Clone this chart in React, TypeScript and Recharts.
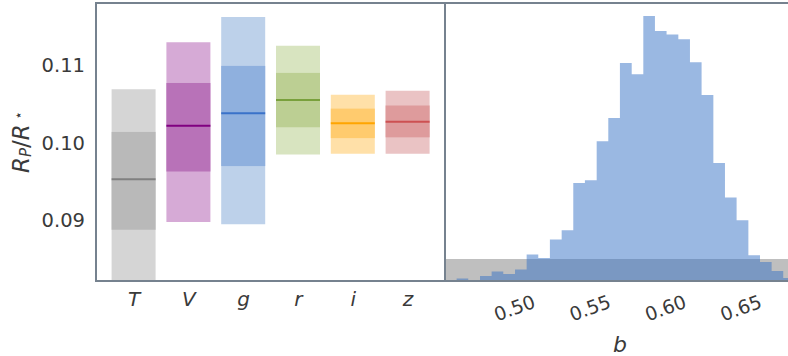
import React from 'react';
import {
  ComposedChart,
  Bar,
  Area,
  XAxis,
  YAxis,
  Cell,
} from 'recharts';

// ---------- Left panel: planet-to-star radius ratio per band ----------
const bands = ['T', 'V', 'g', 'r', 'i', 'z'];
const medians = [0.0953, 0.1022, 0.1038, 0.1055, 0.1025, 0.1027];
const inner1Lo = [0.0888, 0.0963, 0.0970, 0.1020, 0.1006, 0.1007];
const inner1Hi = [0.1014, 0.1077, 0.1099, 0.1090, 0.1044, 0.1048];
const outer2Lo = [0.0800, 0.0898, 0.0895, 0.0985, 0.0986, 0.0986];
const outer2Hi = [0.1069, 0.11295, 0.1162, 0.1125, 0.1062, 0.1067];
const radiusTicks = [0.09, 0.1, 0.11];

// ---------- Right panel: impact parameter histogram ----------
const bEdges = [
  0.4539, 0.4616, 0.4693, 0.4771, 0.4848, 0.4925, 0.5003, 0.508, 0.5157, 0.5234,
  0.5312, 0.5389, 0.5466, 0.5544, 0.5621, 0.5698, 0.5776, 0.5853, 0.593, 0.6007,
  0.6085, 0.6162, 0.6239, 0.6317, 0.6394, 0.6471, 0.6549, 0.6626, 0.6703, 0.678,
  0.6858,
];
const bCounts = [
  0, 2.4, 0, 5, 9.4, 7, 11.4, 26.4, 23, 41.4,
  50.7, 98, 100.7, 139.7, 163, 218, 206.7, 265, 250, 246.4,
  241.7, 218.7, 186, 118, 83.4, 60.7, 25.7, 19, 10, 3,
];
const priorEdges = [0.4539, 0.6858];
const priorLevel = 22;
const bTicks = [0.5, 0.55, 0.6, 0.65];

// ---------- styles ----------
const outerColors = ['#d5d5d5', '#d6aad6', '#bdd1ea', '#d8e4c0', '#ffe0a8', '#eac3c4'];
const innerColors = ['#b9b9b9', '#b872b8', '#8fb0de', '#bccf93', '#ffcb6e', '#de9b9c'];
const medianColors = ['#808080', '#800080', '#3a72c9', '#79a03c', '#ffa500', '#cd5052'];
const frameColor = '#76828f';
const textColor = '#3a3a3a';
const font = 'DejaVu Sans, sans-serif';

const bandRows = bands.map((band, i) => ({
  band,
  outer: [outer2Lo[i], outer2Hi[i]],
  inner: [inner1Lo[i], inner1Hi[i]],
  median: medians[i],
  idx: i,
}));

const histRows = bEdges.map((b, i) => ({
  b,
  count: i < bCounts.length ? bCounts[i] : bCounts[bCounts.length - 1],
}));
const priorRows = priorEdges.map((b) => ({ b, prior: priorLevel }));

const InnerShape = (props: any) => {
  const { x, y, width, height, payload } = props;
  const top = Math.min(y, y + height);
  const h = Math.abs(height);
  const [lo, hi] = payload.inner;
  const medY = top + (h * (hi - payload.median)) / (hi - lo);
  return (
    <g>
      <rect x={x} y={top} width={width} height={h} fill={innerColors[payload.idx]} />
      <line
        x1={x}
        x2={x + width}
        y1={medY}
        y2={medY}
        stroke={medianColors[payload.idx]}
        strokeWidth={2}
      />
    </g>
  );
};

const YLabel = (props: any) => {
  const vb = props.viewBox || { x: 0, y: 0, width: 96, height: 278 };
  const cx = vb.x + 21;
  const cy = vb.y + vb.height / 2;
  return (
    <text
      x={cx}
      y={cy}
      transform={`rotate(-90, ${cx}, ${cy})`}
      textAnchor="middle"
      dominantBaseline="central"
      fill={textColor}
      fontFamily={font}
      fontSize={23}
    >
      <tspan fontStyle="italic">R</tspan>
      <tspan fontStyle="italic" fontSize={15} dy={5}>P</tspan>
      <tspan dy={-5}>/</tspan>
      <tspan fontStyle="italic">R</tspan>
      <tspan fontSize={14} dy={-3}>{' \u22c6'}</tspan>
    </text>
  );
};

const RotTick = (props: any) => {
  const { x, y, payload } = props;
  const cy = y + 27;
  return (
    <text
      x={x}
      y={cy}
      dy="0.35em"
      textAnchor="middle"
      transform={`rotate(-20, ${x}, ${cy})`}
      fill={textColor}
      fontFamily={font}
      fontSize={19}
    >
      {Number(payload.value).toFixed(2)}
    </text>
  );
};

const BLabel = (props: any) => {
  const vb = props.viewBox || { x: 0, y: 0, width: 350, height: 75 };
  return (
    <text
      x={vb.x + vb.width / 2}
      y={352}
      textAnchor="middle"
      fill={textColor}
      fontFamily={font}
      fontStyle="italic"
      fontSize={22}
    >
      b
    </text>
  );
};

const frameStyle = (left: number, width: number): React.CSSProperties => ({
  position: 'absolute',
  left,
  top: 2,
  width,
  height: 280,
  boxSizing: 'border-box',
  border: `2px solid ${frameColor}`,
  pointerEvents: 'none',
});

export default function App() {
  return (
    <div
      style={{
        position: 'absolute',
        left: 0,
        top: 0,
        width: 788,
        height: 356,
        overflow: 'hidden',
        background: '#ffffff',
      }}
    >
      <div style={{ position: 'absolute', left: 0, top: 0 }}>
        <ComposedChart
          width={450}
          height={356}
          data={bandRows}
          margin={{ top: 3, right: 5, bottom: 0, left: 0 }}
        >
          <XAxis
            xAxisId="o"
            dataKey="band"
            type="category"
            padding={{ left: 10.6, right: 9.6 }}
            height={75}
            interval={0}
            axisLine={false}
            tickLine={false}
            tickSize={0}
            tickMargin={11}
            tick={{ fill: textColor, fontSize: 20, fontStyle: 'italic', fontFamily: font }}
          />
          <XAxis
            xAxisId="i"
            dataKey="band"
            type="category"
            padding={{ left: 10.6, right: 9.6 }}
            height={0}
            hide
          />
          <YAxis
            width={96}
            domain={[0.0822, 0.118]}
            allowDataOverflow
            ticks={radiusTicks}
            tickFormatter={(v: number) => v.toFixed(2)}
            axisLine={false}
            tickLine={false}
            tickSize={0}
            tickMargin={11}
            tick={{ fill: textColor, fontSize: 19.5, fontFamily: font }}
            label={<YLabel />}
          />
          <Bar xAxisId="o" dataKey="outer" barSize={44} isAnimationActive={false}>
            {bandRows.map((r) => (
              <Cell key={r.band} fill={outerColors[r.idx]} />
            ))}
          </Bar>
          <Bar
            xAxisId="i"
            dataKey="inner"
            barSize={44}
            isAnimationActive={false}
            shape={InnerShape}
          />
        </ComposedChart>
      </div>
      <div style={{ position: 'absolute', left: 445, top: 0 }}>
        <ComposedChart
          width={350}
          height={356}
          margin={{ top: 3, right: 0, bottom: 0, left: 0 }}
        >
          <XAxis
            dataKey="b"
            type="number"
            domain={[0.4539, 0.6858]}
            allowDataOverflow
            ticks={bTicks}
            height={75}
            axisLine={false}
            tickLine={false}
            tickSize={0}
            tickMargin={0}
            tick={<RotTick />}
            label={<BLabel />}
          />
          <YAxis hide domain={[0, 278]} allowDataOverflow />
          <Area
            data={priorRows}
            dataKey="prior"
            type="linear"
            fill="#bfbfbf"
            fillOpacity={1}
            stroke="none"
            isAnimationActive={false}
          />
          <Area
            data={histRows}
            dataKey="count"
            type="stepAfter"
            fill="#3572c6"
            fillOpacity={0.5}
            stroke="none"
            isAnimationActive={false}
          />
        </ComposedChart>
      </div>
      <div style={frameStyle(95, 351)} />
      <div style={frameStyle(444, 360)} />
    </div>
  );
}
